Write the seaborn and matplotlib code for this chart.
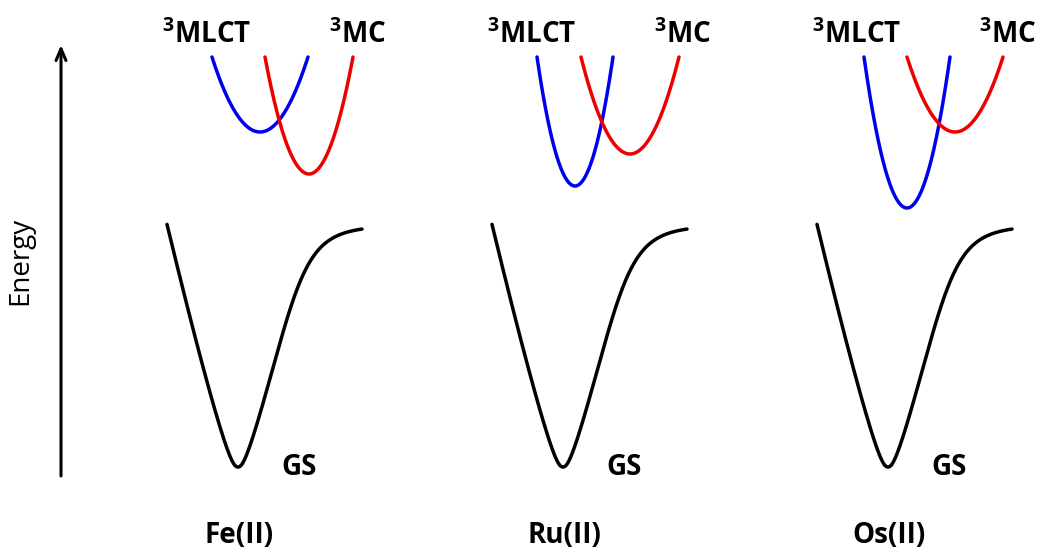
import numpy as np
import pandas as pd
import matplotlib
matplotlib.use("Agg")
import matplotlib.pyplot as plt
import seaborn as sns

# --- complexes and the placement of each potential-energy panel -----------
complexes = ["Fe(II)", "Ru(II)", "Os(II)"]
gs_center = [238, 563, 888]          # nuclear-coordinate origin of each panel

# excited-state minima relative to the ground-state minimum (dQ, E)
mlct_dq = [22, 12, 19]
mlct_e = [335, 281, 259]
mlct_halfwidth = [48, 38, 43]        # half-width where the well is cut off

mc_dq = [71, 67, 67]
mc_e = [293, 313, 335]
mc_halfwidth = [44, 49, 48]

excited_top = 410                    # energy at which excited wells are cut

# ground-state well shape
gs_left_reach = 71                   # extent of the repulsive branch
gs_right_reach = 124                 # extent of the dissociative branch
gs_depth = 242                       # dissociation limit
gs_coef = 2.29
gs_power = 1.116
gs_round = 6                         # rounding of the well bottom

state_colors = {"GS": "#000000", "3MLCT": "#0000ee", "3MC": "#ee0000"}


def ground_state(q):
    a = np.sqrt(q ** 2 + gs_round ** 2) - gs_round
    raw = gs_coef * a ** gs_power
    right = raw / (1 + (raw / gs_depth) ** 4) ** 0.25
    return np.where(q < 0, raw, right)


rows = []
for i, name in enumerate(complexes):
    q = np.linspace(-gs_left_reach, gs_right_reach, 400)
    rows.append(pd.DataFrame({"Q": gs_center[i] + q, "E": ground_state(q),
                              "state": "GS", "curve": f"{name}-GS"}))
    for label, dq, emin, hw in [("3MLCT", mlct_dq[i], mlct_e[i], mlct_halfwidth[i]),
                                ("3MC", mc_dq[i], mc_e[i], mc_halfwidth[i])]:
        u = np.linspace(-1, 1, 200)
        rows.append(pd.DataFrame({"Q": gs_center[i] + dq + hw * u,
                                  "E": emin + (excited_top - emin) * u ** 2,
                                  "state": label, "curve": f"{name}-{label}"}))
curves = pd.concat(rows, ignore_index=True)

sns.set_theme(style="white")
plt.rcParams["font.family"] = ["Open Sans", "DejaVu Sans"]
plt.rcParams["mathtext.fontset"] = "custom"
plt.rcParams["mathtext.rm"] = "Open Sans:bold"
plt.rcParams["mathtext.bf"] = "Open Sans:bold"
plt.rcParams["mathtext.it"] = "Open Sans:bold"

fig = plt.figure(figsize=(10.43, 5.52), dpi=100)
ax = fig.add_axes([0, 0, 1, 1])

sns.lineplot(data=curves, x="Q", y="E", hue="state", units="curve",
             estimator=None, sort=False, palette=state_colors,
             linewidth=2.5, legend=False, ax=ax)

ax.set_xlim(0, 1043)
ax.set_ylim(-85, 467)
ax.set_axis_off()

# energy axis arrow and its label
ax.annotate("", xy=(61, 422), xytext=(61, -9),
            arrowprops=dict(arrowstyle="->,head_length=0.7,head_width=0.3",
                            lw=2.2, color="black", shrinkA=0, shrinkB=0))
ax.text(34, 206, "Energy", rotation=90, ha="right", va="center",
        fontsize=20, color="black")

label_kw = dict(fontsize=20, fontweight="bold", color="black", va="baseline")
for i, name in enumerate(complexes):
    c = gs_center[i]
    ax.text(c - 31, 424, r"$^{3}$MLCT", ha="center", **label_kw)
    ax.text(c + 120, 424, r"$^{3}$MC", ha="center", **label_kw)
    ax.text(c + 61, -8, "GS", ha="center", **label_kw)
    ax.text(c + 1, -76, name, ha="center", **label_kw)

fig.savefig("out.png", dpi=100, facecolor="white")
